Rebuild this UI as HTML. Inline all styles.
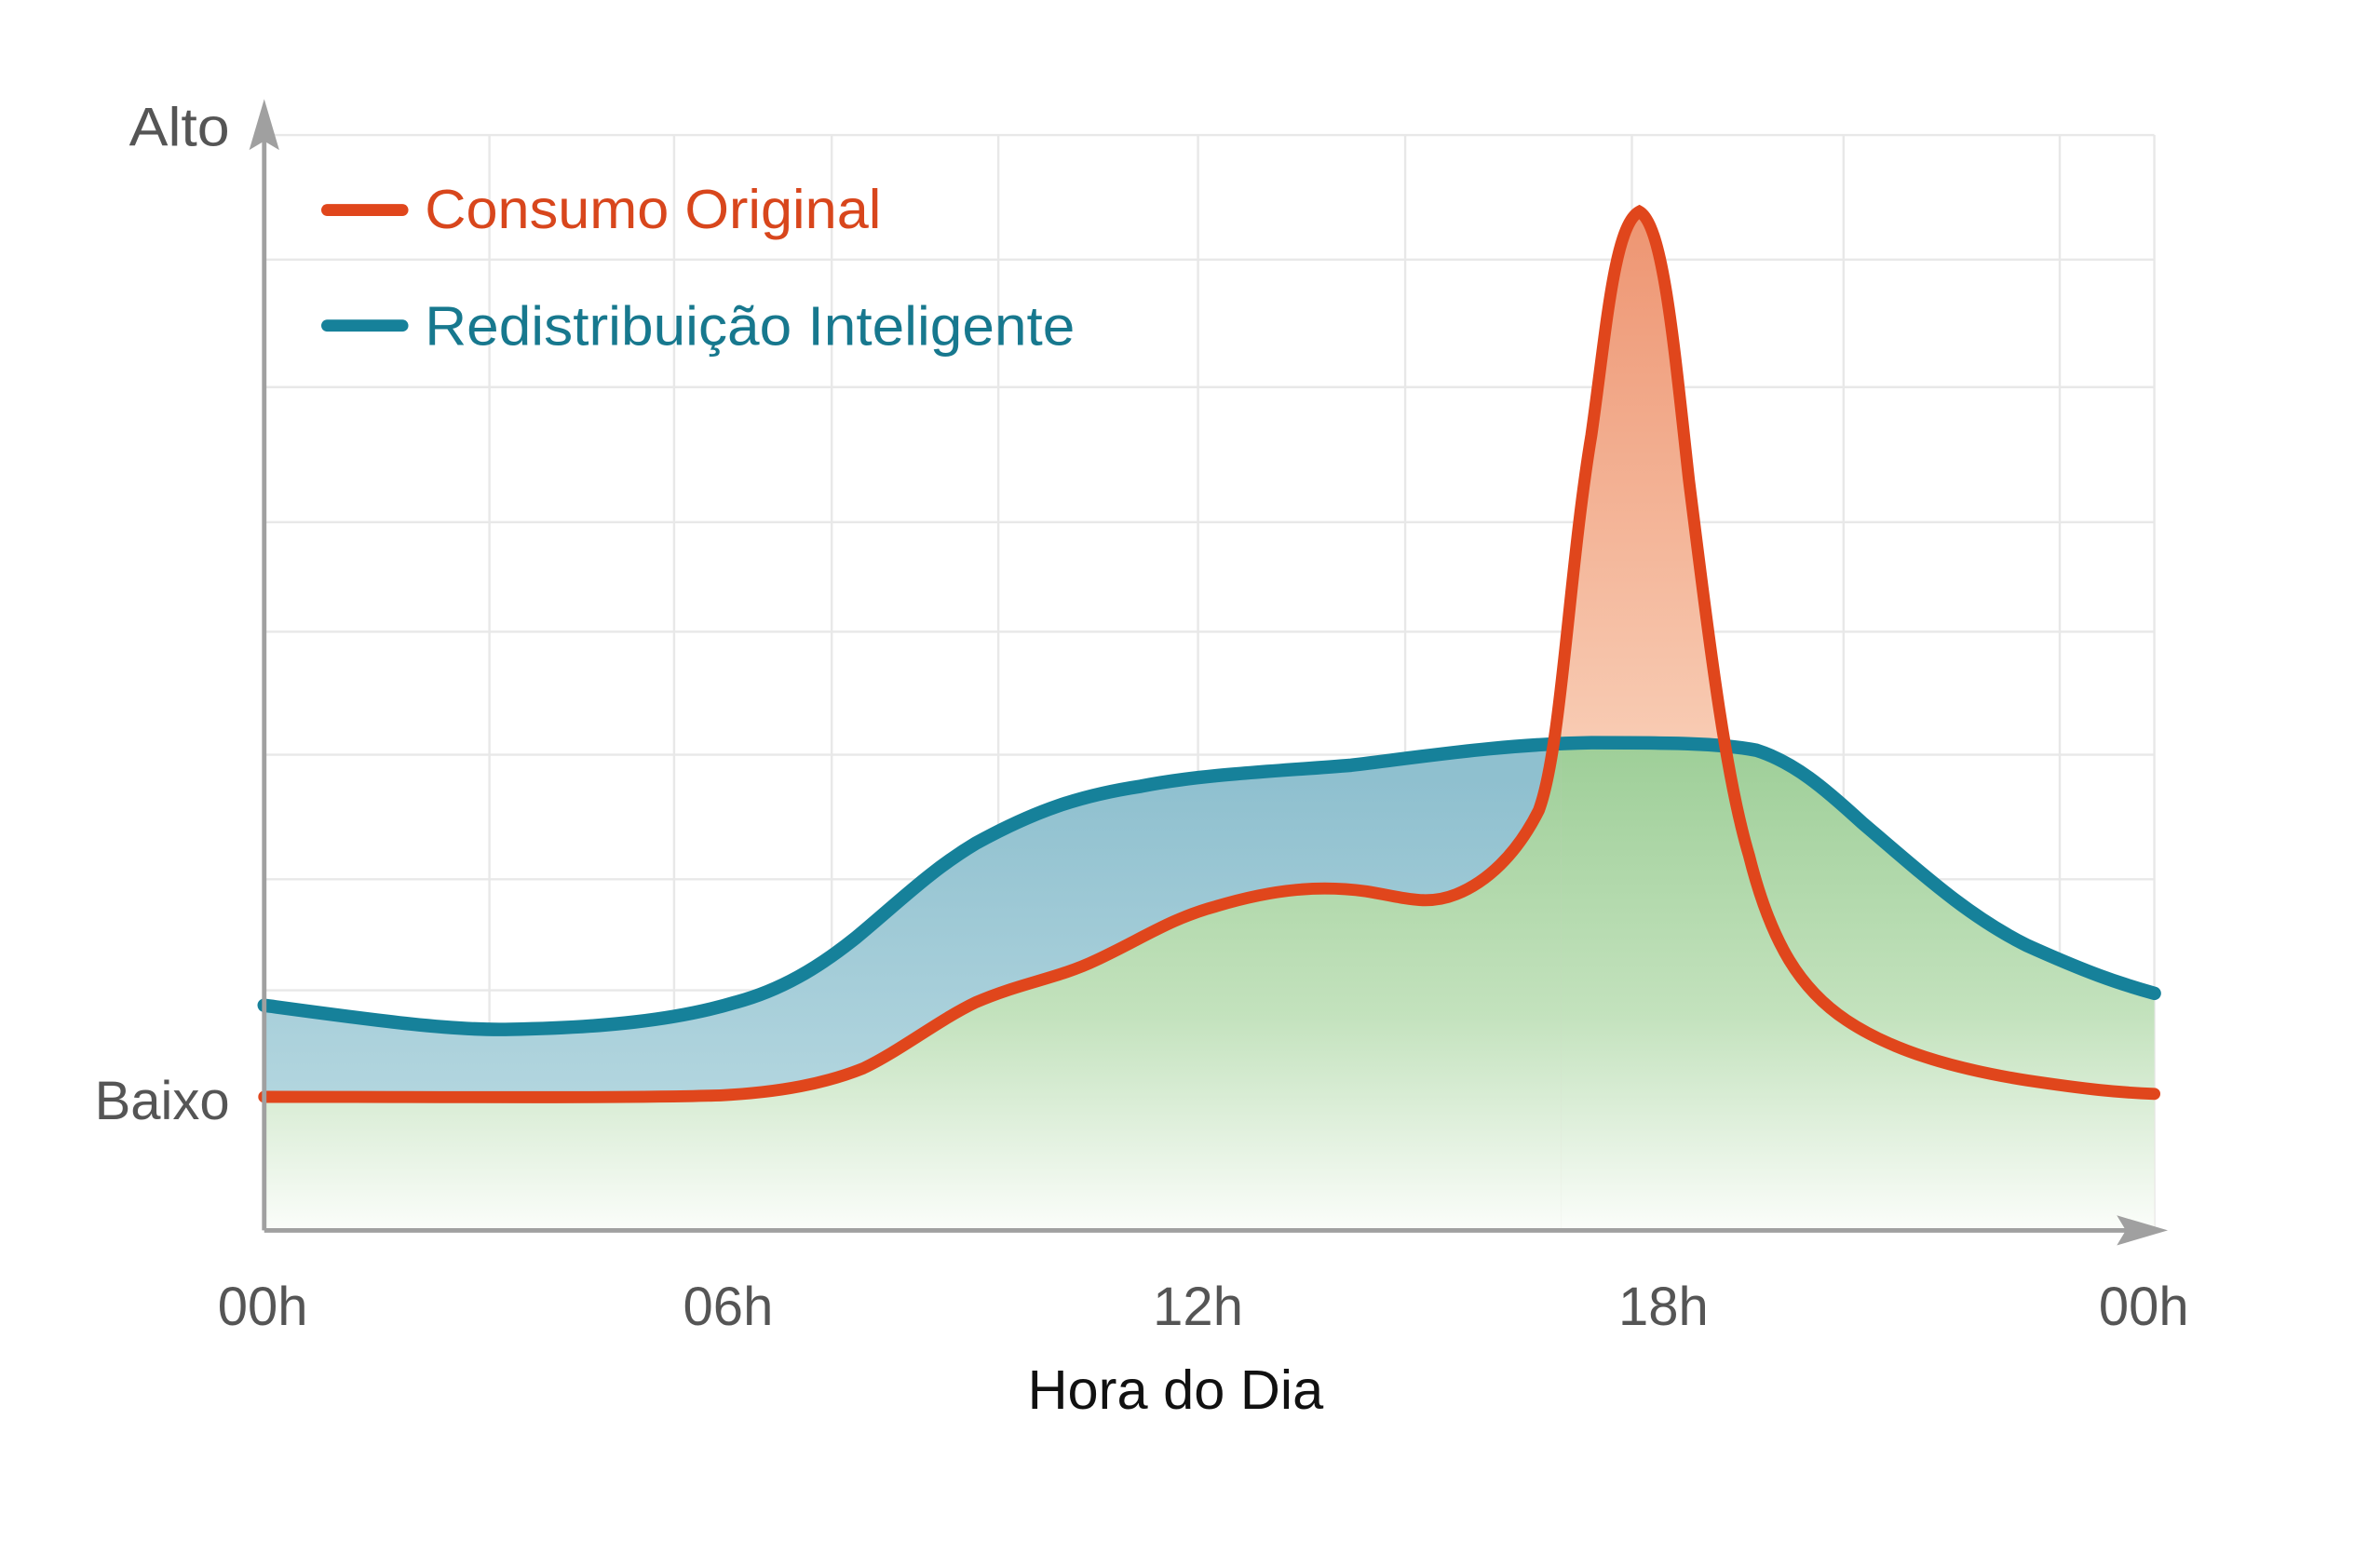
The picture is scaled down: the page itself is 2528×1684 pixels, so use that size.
<!DOCTYPE html>
<html><head><meta charset="utf-8"><style>
html,body{margin:0;padding:0;background:#fff;}
svg{display:block;}
</style></head><body>
<svg width="2528" height="1684" viewBox="0 0 1568 1045" preserveAspectRatio="none" xmlns="http://www.w3.org/2000/svg">
<defs>
<linearGradient id="gr" gradientUnits="userSpaceOnUse" x1="0" y1="500" x2="0" y2="820">
<stop offset="0" stop-color="#9fcf99"/><stop offset="0.55" stop-color="#c3e2bd"/><stop offset="1" stop-color="#fbfdfa"/></linearGradient>
<linearGradient id="sa" gradientUnits="userSpaceOnUse" x1="0" y1="150" x2="0" y2="500">
<stop offset="0" stop-color="#ee9673"/><stop offset="1" stop-color="#f8ccb4"/></linearGradient>
<linearGradient id="bl" gradientUnits="userSpaceOnUse" x1="0" y1="520" x2="0" y2="735">
<stop offset="0" stop-color="#8fc0cf"/><stop offset="1" stop-color="#b3d6df"/></linearGradient>
<clipPath id="L"><rect x="0" y="0" width="1040" height="1045"/></clipPath>
<clipPath id="R"><rect x="1040" y="0" width="600" height="1045"/></clipPath>
<path id="bp" d="M176,670 C250,680 300,687 340,686 C400,685 450,680 490,668 C520,660 545,645 570,625 C600,600 620,580 650,562 C690,540 720,530 760,524 C800,516 850,514 900,510 C950,504 1000,496 1060,495 C1110,495 1145,495 1170,500 C1195,508 1215,525 1240,548 C1280,582 1310,610 1350,630 C1390,648 1410,655 1435,662"/>
<path id="op" d="M176,731 C300,731 420,732 480,730 C520,728 550,722 575,712 C600,700 625,680 650,668 C680,655 705,652 730,640 C760,626 780,612 810,604 C850,592 880,590 910,594 C935,598 950,604 970,596 C990,588 1010,570 1025,540 C1040,500 1045,380 1060,290 C1070,220 1075,150 1092,141 C1108,150 1115,230 1125,320 C1140,440 1150,520 1165,570 C1180,630 1200,660 1230,680 C1260,700 1300,712 1350,720 C1390,726 1410,728 1435,729"/>
</defs>
<g stroke="#e8e8e8" stroke-width="1.5">
<line x1="326" y1="90" x2="326" y2="820"/><line x1="449" y1="90" x2="449" y2="820"/><line x1="554" y1="90" x2="554" y2="820"/><line x1="665" y1="90" x2="665" y2="820"/><line x1="798" y1="90" x2="798" y2="820"/><line x1="936" y1="90" x2="936" y2="820"/><line x1="1087" y1="90" x2="1087" y2="820"/><line x1="1228" y1="90" x2="1228" y2="820"/><line x1="1372" y1="90" x2="1372" y2="820"/><line x1="1435" y1="90" x2="1435" y2="820"/>
<line x1="176" y1="90" x2="1435" y2="90"/><line x1="176" y1="173" x2="1435" y2="173"/><line x1="176" y1="258" x2="1435" y2="258"/><line x1="176" y1="348" x2="1435" y2="348"/><line x1="176" y1="421" x2="1435" y2="421"/><line x1="176" y1="503" x2="1435" y2="503"/><line x1="176" y1="586" x2="1435" y2="586"/><line x1="176" y1="660" x2="1435" y2="660"/><line x1="176" y1="740" x2="1435" y2="740"/>
</g>
<path d="M176,731 C300,731 420,732 480,730 C520,728 550,722 575,712 C600,700 625,680 650,668 C680,655 705,652 730,640 C760,626 780,612 810,604 C850,592 880,590 910,594 C935,598 950,604 970,596 C990,588 1010,570 1025,540 C1040,500 1045,380 1060,290 C1070,220 1075,150 1092,141 C1108,150 1115,230 1125,320 C1140,440 1150,520 1165,570 C1180,630 1200,660 1230,680 C1260,700 1300,712 1350,720 C1390,726 1410,728 1435,729 L1435,820 L176,820Z" fill="url(#sa)"/>
<g clip-path="url(#L)"><path d="M176,670 C250,680 300,687 340,686 C400,685 450,680 490,668 C520,660 545,645 570,625 C600,600 620,580 650,562 C690,540 720,530 760,524 C800,516 850,514 900,510 C950,504 1000,496 1060,495 L1060,820 L176,820Z" fill="url(#bl)"/>
<path d="M176,731 C300,731 420,732 480,730 C520,728 550,722 575,712 C600,700 625,680 650,668 C680,655 705,652 730,640 C760,626 780,612 810,604 C850,592 880,590 910,594 C935,598 950,604 970,596 C990,588 1010,570 1025,540 C1040,500 1045,380 1060,290 L1060,820 L176,820Z" fill="url(#gr)"/></g>
<g clip-path="url(#R)"><path d="M1000,496 C1020,495 1040,495 1060,495 C1110,495 1145,495 1170,500 C1195,508 1215,525 1240,548 C1280,582 1310,610 1350,630 C1390,648 1410,655 1435,662 L1435,820 L1000,820Z" fill="url(#gr)"/></g>
<use href="#bp" fill="none" stroke="#16819a" stroke-width="9" stroke-linecap="round"/>
<use href="#op" fill="none" stroke="#e0461c" stroke-width="8" stroke-linecap="round"/>
<g stroke="#a0a0a0" stroke-width="3" fill="none"><line x1="176" y1="80" x2="176" y2="820"/><line x1="176" y1="820" x2="1425" y2="820"/></g>
<path d="M176,66 L186,100 L176,94 L166,100Z" fill="#a0a0a0"/>
<path d="M1444,820 L1410,810 L1416,820 L1410,830Z" fill="#a0a0a0"/>
<g font-family="Liberation Sans, sans-serif" font-size="36" fill="#555">
<text x="153" y="97" text-anchor="end" textLength="67" lengthAdjust="spacingAndGlyphs">Alto</text>
<text x="153" y="746" text-anchor="end" textLength="90" lengthAdjust="spacingAndGlyphs">Baixo</text>
<text x="175" y="883" text-anchor="middle">00h</text>
<text x="485" y="883" text-anchor="middle">06h</text>
<text x="798" y="883" text-anchor="middle">12h</text>
<text x="1108" y="883" text-anchor="middle">18h</text>
<text x="1428" y="883" text-anchor="middle">00h</text>
</g>
<text x="783" y="939" text-anchor="middle" font-family="Liberation Sans, sans-serif" font-size="37" fill="#111" textLength="197" lengthAdjust="spacingAndGlyphs">Hora do Dia</text>
<line x1="218" y1="140" x2="268" y2="140" stroke="#e0461c" stroke-width="8" stroke-linecap="round"/>
<text x="283" y="152" font-family="Liberation Sans, sans-serif" font-size="37" fill="#d8461c" textLength="304" lengthAdjust="spacingAndGlyphs">Consumo Original</text>
<line x1="218" y1="217" x2="268" y2="217" stroke="#16819a" stroke-width="8" stroke-linecap="round"/>
<text x="283" y="230" font-family="Liberation Sans, sans-serif" font-size="37" fill="#17788e" textLength="433" lengthAdjust="spacingAndGlyphs">Redistribuição Inteligente</text>
</svg>
</body></html>
